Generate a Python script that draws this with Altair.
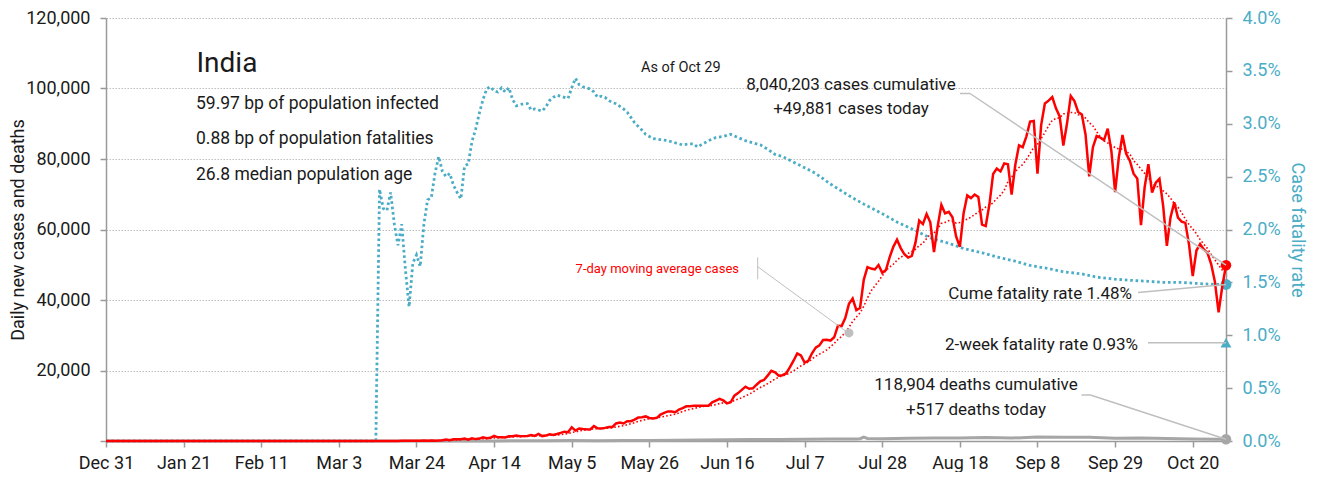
import altair as alt
import pandas as pd

# ---------------- data ----------------
start_date = "2019-12-31"
last_date = "2020-10-29"

cases_jan_feb = [0] * 61  # Dec 31 .. Feb 29
cases_mar = [0, 2, 1, 22, 2, 1, 3, 5, 4, 13, 6, 11, 10, 9, 20, 11, 6, 23, 14, 38,
             50, 86, 66, 103, 37, 121, 70, 160, 100, 112, 227]
cases_apr = [437, 235, 478, 525, 505, 693, 354, 773, 540, 678, 1035, 796, 905, 1463, 1034,
             1076, 1007, 1324, 1334, 1553, 1336, 1383, 1409, 1684, 1429, 1990, 1396, 1543, 1897, 1718]
cases_may = [1993, 2293, 2644, 2487, 3900, 2958, 3561, 3390, 3320, 3277, 4213, 3604, 3525, 3722,
             3967, 3970, 4987, 5242, 4970, 5611, 5609, 6088, 6654, 6767, 6977, 6535, 6387, 6566,
             7466, 7964, 8380]
cases_jun = [8392, 8171, 8909, 9304, 9851, 9887, 9971, 9983, 9987, 9985, 9996, 10956, 11458, 11929,
             11502, 10667, 10974, 12881, 13586, 14516, 15413, 14821, 14933, 15968, 16922, 17296,
             18552, 19906, 19459, 18522]
cases_jul = [18653, 19148, 20903, 22771, 24850, 24248, 22252, 22752, 24879, 26506, 27114, 28637,
             28701, 28498, 29429, 32695, 32607, 34884, 38902, 40425, 37148, 37724, 45720, 49310,
             48916, 48661, 49931, 47703, 48513, 52123, 55079]
cases_aug = [57118, 54735, 52972, 52050, 52509, 56282, 62538, 61537, 64399, 62064, 53601, 60963,
             66999, 64553, 65002, 63490, 57981, 55079, 64531, 69652, 68898, 69878, 69239, 61408,
             60975, 67151, 75760, 77266, 76472, 78761, 78512]
cases_sep = [69921, 78357, 83883, 83341, 86432, 90632, 90802, 75809, 89706, 95735, 96551, 97570,
             94372, 92071, 83809, 90123, 97894, 96424, 93337, 92605, 86961, 75083, 83347, 86508,
             86052, 85362, 88600, 82170, 70589, 80472]
cases_oct = [86821, 81484, 79476, 75829, 74442, 61267, 72049, 78524, 70496, 73272, 74383, 66732,
             55342, 63509, 67708, 63371, 62212, 61871, 55722, 46790, 54044, 55838, 54366, 53370,
             50129, 45149, 36470, 43893, 49881]

# daily deaths, sampled (days after Dec 31)
death_day = [0, 72, 91, 98, 105, 112, 119, 126, 133, 140, 147, 154, 161, 168, 175, 182, 189, 196,
             203, 204, 205, 206, 210, 217, 224, 231, 238, 245, 252, 259, 266, 273, 280, 287, 294,
             301, 303]
death_val = [0, 0, 10, 25, 35, 45, 60, 110, 100, 120, 150, 200, 280, 340, 410, 420, 480, 550,
             600, 650, 1120, 740, 650, 800, 870, 880, 1000, 820, 1130, 1050, 1050, 780, 880, 700,
             590, 490, 517]

# case fatality rate in percent (days after Dec 31)
cfr_day = [0, 73, 74, 75, 76, 77, 78, 79, 80, 81, 82, 83, 84, 85, 86, 87, 88, 89, 90, 91, 92, 93,
           94, 95, 96, 97, 98, 99, 100, 101, 102, 103, 104, 105, 106, 107, 108, 109, 110, 111, 112,
           113, 114, 115, 116, 117, 118, 119, 120, 121, 122, 123, 124, 125, 126, 127, 128, 129, 130,
           131, 132, 133, 134, 135, 136, 137, 138, 140, 141, 142, 143, 145, 146, 148, 150, 152, 154,
           156, 158, 159, 160, 161, 163, 165, 167, 169, 171, 173, 175, 177, 179, 181, 183, 187, 192,
           196, 201, 205, 210, 214, 219, 223, 228, 232, 237, 241, 246, 250, 255, 259, 264, 268, 273,
           277, 282, 286, 291, 295, 300, 303]
cfr_pct = [0, 0, 2.38, 2.20, 2.18, 2.35, 2.05, 1.85, 2.05, 1.62, 1.27, 1.68, 1.76, 1.65, 2.05, 2.28,
           2.30, 2.53, 2.69, 2.55, 2.50, 2.53, 2.42, 2.35, 2.29, 2.60, 2.62, 2.83, 2.95, 3.10, 3.23,
           3.33, 3.35, 3.31, 3.30, 3.34, 3.30, 3.34, 3.23, 3.17, 3.18, 3.19, 3.19, 3.13, 3.14, 3.13,
           3.12, 3.16, 3.22, 3.25, 3.27, 3.26, 3.25, 3.24, 3.34, 3.43, 3.37, 3.35, 3.34, 3.33, 3.30,
           3.25, 3.26, 3.25, 3.22, 3.20, 3.19, 3.14, 3.11, 3.06, 3.01, 2.94, 2.90, 2.86, 2.85, 2.84,
           2.82, 2.80, 2.81, 2.81, 2.78, 2.80, 2.84, 2.87, 2.88, 2.90, 2.87, 2.84, 2.82, 2.80, 2.76,
           2.71, 2.69, 2.62, 2.53, 2.43, 2.32, 2.24, 2.15, 2.07, 1.99, 1.92, 1.87, 1.82, 1.78, 1.74,
           1.70, 1.66, 1.63, 1.60, 1.58, 1.55, 1.53, 1.52, 1.51, 1.50, 1.50, 1.49, 1.48, 1.48]

tick_dates = ["2019-12-31", "2020-01-21", "2020-02-11", "2020-03-03", "2020-03-24", "2020-04-14",
              "2020-05-05", "2020-05-26", "2020-06-16", "2020-07-07", "2020-07-28", "2020-08-18",
              "2020-09-08", "2020-09-29", "2020-10-20"]
left_ticks = [0, 20000, 40000, 60000, 80000, 100000, 120000]
right_ticks = [0, 0.005, 0.01, 0.015, 0.02, 0.025, 0.03, 0.035, 0.04]

cases_today = 49881
deaths_today = 517
cume_cfr_pct = 1.48
two_week_cfr_pct = 0.93
ma_marker_date = "2020-07-19"
ma_marker_value = 30650

country = "India"
stat_lines = ["59.97 bp of population infected", "0.88 bp of population fatalities",
              "26.8 median population age"]
as_of = "As of Oct 29"
cases_note = ["8,040,203 cases cumulative", "+49,881 cases today"]
deaths_note = ["118,904 deaths cumulative", "+517 deaths today"]
cume_note = "Cume fatality rate 1.48%"
two_week_note = "2-week fatality rate 0.93%"
ma_note = "7-day moving average cases"

# ---------------- tables ----------------
base = pd.Timestamp(start_date)
def day_str(d):
    return (base + pd.Timedelta(days=int(d))).strftime("%Y-%m-%d")

cases = cases_jan_feb + cases_mar + cases_apr + cases_may + cases_jun + cases_jul + cases_aug + cases_sep + cases_oct
case_df = pd.DataFrame({"date": [day_str(i) for i in range(len(cases))], "cases": cases})
death_df = pd.DataFrame({"date": [day_str(d) for d in death_day], "deaths": death_val})
cfr_df = pd.DataFrame({"date": [day_str(d) for d in cfr_day], "cfr": [v / 100 for v in cfr_pct]})
end_left = pd.DataFrame({"date": [last_date, last_date], "v": [cases_today, deaths_today],
                         "kind": ["cases", "deaths"]})
ma_mark_df = pd.DataFrame({"date": [ma_marker_date], "v": [ma_marker_value]})
end_right = pd.DataFrame({"date": [last_date, last_date], "v": [cume_cfr_pct / 100, two_week_cfr_pct / 100],
                          "kind": ["cume", "two"]})
one = pd.DataFrame({"a": [0]})

# ---------------- styling ----------------
FONT = "Roboto"
RED = "#ff0000"
BLUE = "#4bacc6"
GRAY = "#a6a6a6"
LEAD = "#bfbfbf"
INK = "#1a1a1a"
AX = "#9a9a9a"
W, H = 1120, 423
TOP = 10          # top padding; annotation y values below are page-y minus (8 + TOP)
OY = 8 + TOP
YMAX_L, YMAX_R = 120000, 0.04

def dt(s):
    t = pd.Timestamp(s)
    return alt.DateTime(year=t.year, month=t.month, date=t.day, utc=True)

x_scale = alt.Scale(type="utc", domain=[dt(start_date), dt(last_date)])
x_axis = alt.Axis(values=[dt(s) for s in tick_dates], labelExpr="utcFormat(datum.value, '%b %-d')",
                  labelFontSize=18, labelColor=INK, labelPadding=7, tickSize=6, tickColor=AX,
                  domainColor=AX, domainWidth=1.5, tickWidth=1.5, grid=False, title=None,
                  labelFlush=False, labelOverlap=False)
X = alt.X("date:T", scale=x_scale, axis=x_axis)

yl_scale = alt.Scale(domain=[0, YMAX_L], nice=False)
yl_axis = alt.Axis(orient="left", values=left_ticks,
                   labelExpr="datum.value == 0 ? '' : format(datum.value, ',')",
                   labelFontSize=18, labelColor=INK, labelPadding=10, tickSize=6, tickColor=AX,
                   tickWidth=1.5, domainColor=AX, domainWidth=1.5, grid=True, gridColor="#bdbdbd",
                   gridDash=[1.5, 1.5], gridWidth=1, title="Daily new cases and deaths",
                   titleFontSize=18, titleFontWeight="normal", titleColor=INK,
                   titleX=-88, titleY=H / 2, titleAngle=-90, titleBaseline="middle", titleAlign="center")
yr_scale = alt.Scale(domain=[0, YMAX_R], nice=False)
yr_axis = alt.Axis(orient="right", values=right_ticks, format=".1%", labelFontSize=18,
                   labelColor=BLUE, labelPadding=10, tickSize=6, tickColor=AX, tickWidth=1.5,
                   domainColor=AX, domainWidth=1.5, grid=False, title="Case fatality rate",
                   titleFontSize=18, titleFontWeight="normal", titleColor=BLUE, titleAngle=90,
                   titleX=70, titleY=H / 2, titleBaseline="middle", titleAlign="center")

def YL(field):
    return alt.Y(field, scale=yl_scale, axis=yl_axis)

def YR(field):
    return alt.Y(field, scale=yr_scale, axis=yr_axis)

# ---------------- left-axis layers ----------------
deaths_line = alt.Chart(death_df).mark_line(color=GRAY, strokeWidth=3).encode(x=X, y=YL("deaths:Q"))
ma_line = (alt.Chart(case_df)
           .transform_window(ma="mean(cases)", frame=[-6, 0], sort=[alt.SortField("date")])
           .mark_line(color=RED, strokeWidth=1.6, strokeDash=[1.6, 2.2])
           .encode(x=X, y=YL("ma:Q")))
cases_line = alt.Chart(case_df).mark_line(color=RED, strokeWidth=2.5).encode(x=X, y=YL("cases:Q"))
end_dots = alt.Chart(end_left).mark_circle(size=110, opacity=1).encode(
    x=X, y=YL("v:Q"),
    color=alt.Color("kind:N", scale=alt.Scale(domain=["cases", "deaths"], range=[RED, GRAY]), legend=None))
ma_dot = alt.Chart(ma_mark_df).mark_circle(size=80, opacity=1, color=LEAD).encode(x=X, y=YL("v:Q"))
left = alt.layer(deaths_line, ma_line, cases_line, ma_dot, end_dots)

# ---------------- right-axis layers ----------------
cfr_line = alt.Chart(cfr_df).mark_line(color=BLUE, strokeWidth=2.8, strokeDash=[2.6, 2.8]).encode(
    x=X, y=YR("cfr:Q"))
right_marks = alt.Chart(end_right).mark_point(filled=True, size=120, opacity=1, color=BLUE).encode(
    x=X, y=YR("v:Q"),
    shape=alt.Shape("kind:N", scale=alt.Scale(domain=["cume", "two"], range=["circle", "triangle-up"]),
                    legend=None))
right = alt.layer(cfr_line, right_marks)

# ---------------- annotations (positions given as page pixels) ----------------
def py_l(v):
    return H * (1 - v / YMAX_L)

def py_r(v):
    return H * (1 - v / YMAX_R)

def txt(s, x, y, size=17, align="left", color=INK, weight="normal"):
    return alt.Chart(one).mark_text(text=s, align=align, baseline="alphabetic", fontSize=size,
                                    color=color, font=FONT, fontWeight=weight).encode(
        x=alt.value(x - 106), y=alt.value(y - OY))

def seg(x1, y1, x2, y2, color=LEAD, w=1.5, plot_end=False):
    # x1, y1 in page pixels; x2, y2 in page pixels unless plot_end (then plot-area pixels)
    ex, ey = (x2, y2) if plot_end else (x2 - 106, y2 - OY)
    return alt.Chart(one).mark_rule(color=color, strokeWidth=w).encode(
        x=alt.value(x1 - 106), y=alt.value(y1 - OY), x2=alt.value(ex), y2=alt.value(ey))

ann = [
    txt(country, 196.5, 71.5, size=28),
    txt(stat_lines[0], 196, 108.5, size=17.5),
    txt(stat_lines[1], 196, 144, size=17.5),
    txt(stat_lines[2], 196, 179.5, size=17.5),
    txt(as_of, 641, 72, size=14.5),
    txt(cases_note[0], 851, 89.5, align="center"),
    txt(cases_note[1], 851, 114, align="center"),
    seg(960, 93.5, 970, 93.5),
    seg(970, 93.5, W, py_l(cases_today), plot_end=True),
    txt(cume_note, 1132, 299, align="right"),
    seg(1138, 292.5, W, py_r(cume_cfr_pct / 100), plot_end=True),
    txt(two_week_note, 1138, 350, align="right"),
    seg(1148, OY + py_r(two_week_cfr_pct / 100), W, py_r(two_week_cfr_pct / 100), plot_end=True),
    txt(deaths_note[0], 976, 390, align="center"),
    txt(deaths_note[1], 976, 415, align="center"),
    seg(1081.5, 395, 1090.5, 395),
    seg(1090.5, 395, W, py_l(deaths_today), plot_end=True),
    txt(ma_note, 739, 272.5, size=13, align="right", color=RED),
    seg(757.7, 257.3, 757.7, 279.3, w=1),
    seg(757.7, 266.7, 200.8 / 303 * W, py_l(ma_marker_value), w=1, plot_end=True),
]

chart = (alt.layer(right, left, *ann)
         .resolve_scale(y="independent")
         .properties(width=W, height=H,
                     autosize=alt.AutoSizeParams(type="none"),
                     padding={"left": 98, "top": TOP, "right": 85, "bottom": 31})
         .configure(font=FONT)
         .configure_view(stroke=None)
         .configure_axis(labelFont=FONT, titleFont=FONT))

chart.save("out.html", embed_options={"renderer": "svg", "actions": False})
